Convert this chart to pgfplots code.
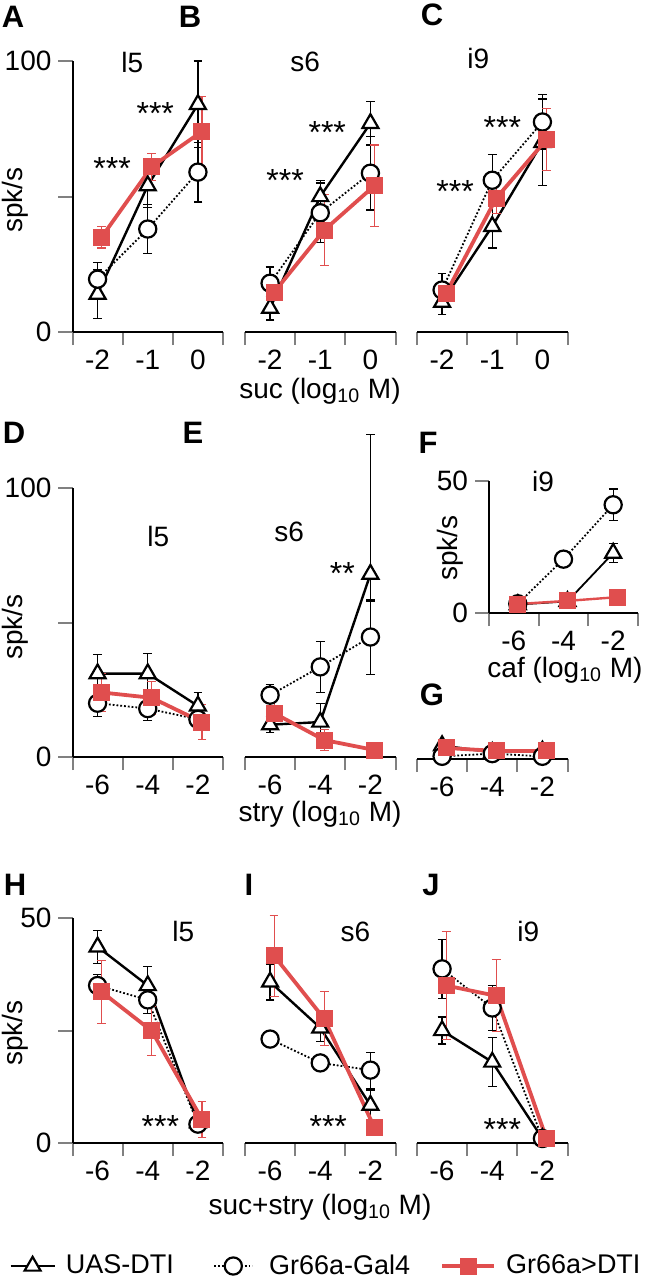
\documentclass[border=0pt]{standalone}
\usepackage{pgfplots}
\pgfplotsset{compat=1.18}
\usepackage{fontspec}
\setmainfont{Liberation Sans}
\definecolor{dtired}{RGB}{224,78,78}
\newcommand\fs{\fontsize{14}{16}\selectfont}
\newcommand\fg{\fontsize{13.5}{16}\selectfont}
\newcommand\fl{\fontsize{15.5}{18}\selectfont\bfseries}

\tikzset{stars/.style={font=\fontsize{16}{18}\selectfont, yshift=-3pt},
  xlab/.style={font=\fs, inner sep=1pt}}
\pgfplotsset{
  errb/.style={/pgfplots/error bars/y dir=both, /pgfplots/error bars/y explicit,
    /pgfplots/error bars/error bar style={line width=0.6pt, solid},
    /pgfplots/error bars/error mark options={rotate=90, mark size=2.2pt, line width=0.6pt, solid}},
  uasL/.style={black, line width=1.2pt, mark=triangle*, mark size=4.6pt,
    mark options={solid, fill=white, line width=1.1pt}},
  galL/.style={black, densely dotted, line width=0.9pt, mark=*, mark size=4.3pt,
    mark options={solid, fill=white, line width=1.1pt}},
  dtiL/.style={dtired, line width=1.9pt, mark=square*, mark size=4pt,
    mark options={solid, fill=dtired, draw=dtired, line width=0.5pt}},
  uas/.style={uasL, errb},
  gal/.style={galL, errb},
  dti/.style={dtiL, errb},
  base/.style={scale only axis, clip=false, width=75.25pt,
    xmin=-0.5, xmax=2.5, ymin=0,
    xtick={0,1,2}, minor xtick={-0.5,0.5,1.5,2.5},
    major x tick style={draw=none},
    major tick length=7pt, minor tick length=6.5pt,
    axis line style={line width=1pt},
    tick style={line width=1pt},
    tick label style={font=\fs},
    xticklabel style={inner sep=1pt, yshift=-1pt},
    anchor=south west},
  withy/.style={base, axis x line*=bottom, axis y line*=left, tick align=outside},
  noy/.style={base, axis x line*=bottom, axis y line=none, ytick=\empty, tick align=outside},
  leg/.style={hide axis, scale only axis, width=10pt, height=10pt, anchor=south west,
    xmin=0, xmax=1, ymin=0, ymax=1,
    legend style={draw=none, fill=none, font=\fg, at={(0,0.5)}, anchor=west,
      inner sep=0pt, column sep=#1}},
  legimg/.style={legend image code/.code={\draw[mark repeat=2, mark phase=2, ##1]
    plot coordinates {(0pt,0pt) (#1/2,0pt) (#1,0pt)};}},
}

\begin{document}
\begin{tikzpicture}
\path[use as bounding box] (0pt,0pt) rectangle (322pt,-640pt);

% ---------- row 1: sucrose
\begin{axis}[withy, at={(36.25pt,-166pt)}, height=135.5pt, ymax=100,
  ytick={0,50,100}, yticklabels={0,,100}, xticklabels={-2,-1,0}]
\addplot[uas] coordinates {(0,14) +- (0,9) (1,54) +- (0,8) (2,84) +- (0,16)};
\addplot[gal] coordinates {(0,19.5) +- (0,6) (1,38) +- (0,9) (2,59) +- (0,11)};
\addplot[dti] coordinates {(0.08,35) +- (0,4) (1.08,61) +- (0,5) (2.08,74) +- (0,13)};
\node[font=\fs] at (axis cs:0.69,99.6) {l5};
\node[stars] at (axis cs:0.29,62.4) {***};
\node[stars] at (axis cs:1.15,83) {***};
\end{axis}

\begin{axis}[noy, at={(122.5pt,-166pt)}, height=135.5pt, ymax=100, xticklabels={-2,-1,0}]
\addplot[uas] coordinates {(0,8.8) +- (0,4.4) (1,50) +- (0,6) (2,77) +- (0,8)};
\addplot[gal] coordinates {(0,18) +- (0,6) (1,44) +- (0,11) (2,58.6) +- (0,13.6)};
\addplot[dti] coordinates {(0.08,14.7) +- (0,3) (1.08,37.6) +- (0,13) (2.08,54) +- (0,15)};
\node[font=\fs] at (axis cs:0.7,99.6) {s6};
\node[stars] at (axis cs:0.3,58) {***};
\node[stars] at (axis cs:1.14,76) {***};
\end{axis}

\begin{axis}[noy, at={(208.5pt,-166pt)}, height=135.5pt, ymax=100, xticklabels={-2,-1,0}]
\addplot[uas] coordinates {(0,11) +- (0,4.5) (1,39) +- (0,8) (2,70) +- (0,16)};
\addplot[gal] coordinates {(0,15.5) +- (0,6) (1,56) +- (0,9.6) (2,77.5) +- (0,10)};
\addplot[dti] coordinates {(0.08,14.3) +- (0,2) (1.08,49.4) +- (0,5.6) (2.08,71) +- (0,11.5)};
\node[font=\fs] at (axis cs:0.72,101) {i9};
\node[stars] at (axis cs:0.26,54) {***};
\node[stars] at (axis cs:1.2,77.5) {***};
\end{axis}

% ---------- row 2: strychnine / caffeine
\begin{axis}[withy, at={(36.25pt,-378.5pt)}, height=134.5pt, ymax=100,
  ytick={0,50,100}, yticklabels={0,,100}, xticklabels={-6,-4,-2}]
\addplot[uas] coordinates {(0,31) +- (0,7) (1,31) +- (0,7.5) (2,19) +- (0,5)};
\addplot[gal] coordinates {(0,20) +- (0,5) (1,18) +- (0,4.5) (2,14) +- (0,4)};
\addplot[dti] coordinates {(0.08,24) +- (0,7) (1.08,22) +- (0,6) (2.08,13) +- (0,6.5)};
\node[font=\fs] at (axis cs:1.21,81.8) {l5};
\end{axis}

\begin{axis}[noy, at={(122.5pt,-378.5pt)}, height=134.5pt, ymax=100, xticklabels={-6,-4,-2}]
\addplot[uas] coordinates {(0,12) +- (0,3) (1,13) +- (0,7) (2,68) += (0,52) -= (0,10)};
\addplot[gal] coordinates {(0,23) +- (0,4) (1,33.5) +- (0,9.5) (2,44.6) +- (0,14)};
\addplot[dti] coordinates {(0.08,16.3) +- (0,6) (1.08,6.3) +- (0,4) (2.08,2.6) +- (0,0)};
\node[font=\fs] at (axis cs:0.38,83.6) {s6};
\node[stars] at (axis cs:1.44,70.3) {**};
\end{axis}

\begin{axis}[withy, at={(244.5pt,-306.5pt)}, width=74.5pt, height=66pt, ymax=50,
  ytick={0,50}, yticklabels={0,50}, xticklabels={-6,-4,-2}]
\addplot[uas, line width=0.9pt] coordinates {(0.08,3.2) +- (0,0) (1.08,4.4) +- (0,0) (2,22.7) +- (0,3.5)};
\addplot[gal] coordinates {(0.08,3.5) +- (0,0) (1,20.4) +- (0,1.5) (2,41) +- (0,6)};
\addplot[dti, line width=1.2pt] coordinates {(0.08,3.4) +- (0,0) (1.08,4.6) +- (0,0) (2.08,6) +- (0,0)};
\node[font=\fs] at (axis cs:0.59,50) {i9};
\end{axis}

\begin{axis}[noy, at={(208.5pt,-379.5pt)}, height=13.45pt, ymax=10, xticklabels={-6,-4,-2}]
\addplot[uas] coordinates {(0,5) +- (0,0) (1,2.5) +- (0,0) (2,3) +- (0,0)};
\addplot[gal] coordinates {(0,1) +- (0,0) (1,2) +- (0,0) (2,1) +- (0,0)};
\addplot[dti] coordinates {(0.08,4.1) +- (0,0) (1.08,3) +- (0,0) (2.08,3) +- (0,0)};
\end{axis}

% ---------- row 3: sucrose + strychnine
\begin{axis}[withy, at={(36.25pt,-571.5pt)}, height=112.5pt, ymax=50,
  ytick={0,25,50}, yticklabels={0,,50}, xticklabels={-6,-4,-2}]
\addplot[uas] coordinates {(0,43.6) +- (0,3.7) (1,35) +- (0,4.3) (2,4.5) +- (0,1)};
\addplot[gal] coordinates {(0,35) +- (0,2.5) (1,31.8) +- (0,3) (2,4.2) +- (0,1)};
\addplot[dti] coordinates {(0.08,33.6) +- (0,7) (1.08,24.9) +- (0,5.5) (2.08,5.3) +- (0,4)};
\node[font=\fs] at (axis cs:1.71,46.9) {l5};
\node[stars] at (axis cs:1.25,4.9) {***};
\end{axis}

\begin{axis}[noy, at={(122.5pt,-571.5pt)}, height=112.5pt, ymax=50, xticklabels={-6,-4,-2}]
\addplot[uas] coordinates {(0,35.8) +- (0,4) (1,25.6) +- (0,3) (2,8.4) +- (0,3.4)};
\addplot[gal] coordinates {(0,23.1) +- (0,1.5) (1,17.8) +- (0,1) (2,16.2) +- (0,4)};
\addplot[dti] coordinates {(0.08,41.6) +- (0,9) (1.08,27.6) +- (0,6) (2.08,3.4) +- (0,0.5)};
\node[font=\fs] at (axis cs:1.7,46.9) {s6};
\node[stars] at (axis cs:1.16,4.9) {***};
\end{axis}

\begin{axis}[noy, at={(208.5pt,-571.5pt)}, height=112.5pt, ymax=50, xticklabels={-6,-4,-2}]
\addplot[uas] coordinates {(0,25) +- (0,3) (1,18) +- (0,5.5) (2,1) +- (0,0.5)};
\addplot[gal] coordinates {(0,38.7) +- (0,6.5) (1,30) +- (0,5) (2,1) +- (0,0)};
\addplot[dti] coordinates {(0.08,35) +- (0,12) (1.08,32.7) +- (0,8) (2.08,1) +- (0,0)};
\node[font=\fs] at (axis cs:1.72,46.9) {i9};
\node[stars] at (axis cs:1.2,4.4) {***};
\end{axis}

% ---------- legend, one entry each
\begin{axis}[leg=3pt, legimg=22pt, at={(4.5pt,-638pt)}]
\addlegendimage{uasL}
\addlegendentry{UAS-DTI}
\end{axis}
\begin{axis}[leg=6pt, legimg=19pt, at={(106.5pt,-638pt)}]
\addlegendimage{galL}
\addlegendentry{Gr66a-Gal4}
\end{axis}
\begin{axis}[leg=3pt, legimg=26pt, at={(220pt,-638pt)}]
\addlegendimage{dtiL}
\addlegendentry{Gr66a>DTI}
\end{axis}

% ---------- axis labels and panel letters
\node[font=\fs, rotate=90] at (7.5pt,-100pt) {spk/s};
\node[font=\fs, rotate=90] at (7.5pt,-313.5pt) {spk/s};
\node[font=\fs, rotate=90] at (225pt,-274pt) {spk/s};
\node[font=\fs, rotate=90] at (7.5pt,-516.5pt) {spk/s};
\node[xlab] at (160pt,-195.5pt) {suc (log\textsubscript{10} M)};
\node[xlab] at (160pt,-407pt) {stry (log\textsubscript{10} M)};
\node[xlab] at (282.5pt,-335pt) {caf (log\textsubscript{10} M)};
\node[xlab] at (160pt,-603.5pt) {suc+stry (log\textsubscript{10} M)};
\node[font=\fl] at (6.5pt,-8.5pt) {A};
\node[font=\fl] at (95pt,-8.5pt) {B};
\node[font=\fl] at (216pt,-7.5pt) {C};
\node[font=\fl] at (7pt,-216.5pt) {D};
\node[font=\fl] at (96.5pt,-216.5pt) {E};
\node[font=\fl] at (214pt,-221.5pt) {F};
\node[font=\fl] at (216pt,-347.5pt) {G};
\node[font=\fl] at (7.5pt,-442.5pt) {H};
\node[font=\fl] at (124.5pt,-442.5pt) {I};
\node[font=\fl] at (215.5pt,-442.5pt) {J};
\end{tikzpicture}
\end{document}
